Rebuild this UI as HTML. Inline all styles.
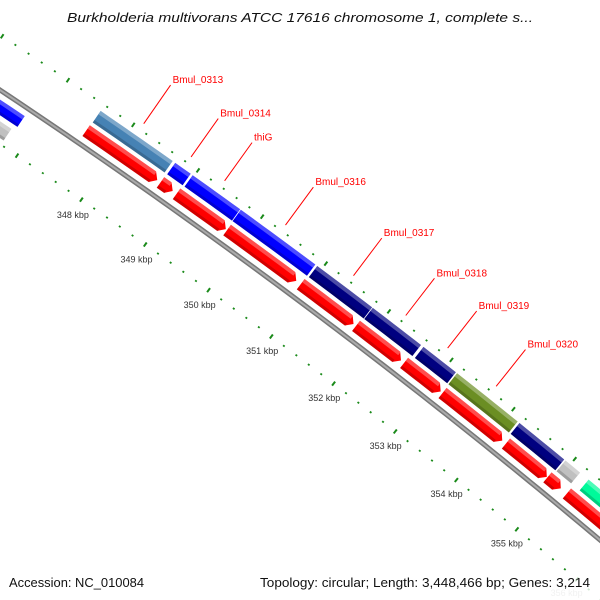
<!DOCTYPE html>
<html><head><meta charset="utf-8"><title>Genome map</title>
<style>
html,body{margin:0;padding:0;background:#fff;width:600px;height:600px;overflow:hidden;}
svg{display:block;font-family:"Liberation Sans","DejaVu Sans",sans-serif;}
</style></head>
<body>
<svg id="chart" width="600" height="600" viewBox="0 0 600 600" xmlns="http://www.w3.org/2000/svg" overflow="hidden">
<rect x="0" y="0" width="600" height="600" fill="#fff"/>
<g id="ticks"></g>
<g id="backbone"></g>
<g id="genes"></g>
<g id="labels"></g>
<text x="300" y="22" text-anchor="middle" font-size="13" font-style="italic" fill="#111" textLength="466" lengthAdjust="spacingAndGlyphs">Burkholderia multivorans ATCC 17616 chromosome 1, complete s...</text>
<rect x="0" y="572" width="600" height="28" fill="#fff" opacity="0.8"/>
<text x="9" y="587" font-size="13" fill="#111" textLength="135" lengthAdjust="spacingAndGlyphs">Accession: NC_010084</text>
<text x="590" y="587" text-anchor="end" font-size="13" fill="#111" textLength="330" lengthAdjust="spacingAndGlyphs">Topology: circular; Length: 3,448,466 bp; Genes: 3,214</text>
</svg>
<script>
// ---- data ----
const outerStarts = [347.56, 348.71, 348.98, 349.73, 350.93, 351.81, 352.62, 353.16, 354.17, 354.92, 355.30];
const outerEnds   = [348.67, 348.95, 349.72, 350.90, 351.80, 352.58, 353.14, 354.14, 354.90, 355.16, 357.50];
const outerColors = ["#4682b4","#0000ff","#0000ff","#0000ff","#000080","#000080","#000080","#6b8e23","#000080","#c0c0c0","#00fa9a"];
const redStarts = [347.55, 348.70, 348.95, 349.74, 350.90, 351.78, 352.55, 353.17, 354.20, 354.88, 355.20];
const redEnds   = [348.65, 348.89, 349.72, 350.83, 351.74, 352.50, 353.14, 354.14, 354.87, 355.10, 357.50];
const innerStarts = [343.0];
const innerEnds   = [346.80];
const innerColors = ["#0000ff"];
const inner2Starts = [343.0];
const inner2Ends   = [346.75];
const inner2Colors = ["#c0c0c0"];
const labelNames = ["Bmul_0313","Bmul_0314","thiG","Bmul_0316","Bmul_0317","Bmul_0318","Bmul_0319","Bmul_0320"];
const labelPos   = [348.10, 348.83, 349.35, 350.30, 351.37, 352.20, 352.87, 353.65];
const tickKbp = [348,349,350,351,352,353,354,355,356];

// ---- geometry (circular axis) ----
const CX = -3676, CY = 5616, T0 = -0.9643, K = 0.01184;
const R_BACK = 6637, R_RED0 = 6645, R_RED1 = 6658, R_COL0 = 6662, R_COL1 = 6676;
const R_IN0 = 6616, R_IN1 = 6629, R_IN20 = 6597, R_IN21 = 6611;
const R_OTICK = 6683, R_ITICK = 6592, R_TLAB = 6570;
const NS = "http://www.w3.org/2000/svg";
function ang(p){ return T0 + (p - 348) * K; }
function pt(r, p){ const a = ang(p); return [CX + r*Math.cos(a), CY + r*Math.sin(a)]; }
function f(v){ return v[0].toFixed(2)+","+v[1].toFixed(2); }
function arcPts(r, p1, p2){
  const n = Math.max(2, Math.ceil(Math.abs(p2-p1)*8));
  const out = [];
  for (let i=0;i<=n;i++) out.push(pt(r, p1 + (p2-p1)*i/n));
  return out;
}
function barPath(p1, p2, r0, r1, arrow){
  const pts = [];
  let h = 0;
  if (arrow) h = Math.min(0.076, (p2-p1)*0.6);
  arcPts(r1, p1, p2-h).forEach(v=>pts.push(v));
  if (arrow) pts.push(pt((r0+r1)/2, p2));
  arcPts(r0, p2-h, p1).forEach(v=>pts.push(v));
  return "M" + pts.map(f).join(" L") + " Z";
}
function mk(tag, parent){ const e = document.createElementNS(NS, tag); parent.appendChild(e); return e; }

const gT = document.getElementById("ticks");
const gB = document.getElementById("backbone");
const gG = document.getElementById("genes");
const gL = document.getElementById("labels");

// ticks: dots every 0.2 kbp, dashes at integer kbp
for (let i = 0; i <= (357.6-343.4)/0.2; i++){
  const p = 343.4 + i*0.2;
  const major = Math.abs(p - Math.round(p)) < 1e-6;
  [R_OTICK, R_ITICK].forEach(function(r){
    const a = pt(r - (major?2.5:0.9), p), b = pt(r + (major?2.5:0.9), p);
    const ln = mk("line", gT);
    
    
    ln.setAttribute("x1", a[0]); ln.setAttribute("y1", a[1]);
    ln.setAttribute("x2", b[0]); ln.setAttribute("y2", b[1]);
    ln.setAttribute("stroke", "#1a8a1a");
    ln.setAttribute("stroke-width", "2");
  });
}
tickKbp.forEach(function(k){
  const c = pt(R_TLAB, k);
  const t = mk("text", gT);
  
  
  t.setAttribute("x", c[0] + 4); t.setAttribute("y", c[1]);
  t.setAttribute("text-anchor", "middle");
  t.setAttribute("font-size", "9");
  t.setAttribute("fill", "#333");
  if (k === 356) t.setAttribute("opacity", "0.35");
  t.textContent = k + " kbp";
});

// backbone
[["#777",5],["#aaa",2]].forEach(function(s){
  const pts = arcPts(R_BACK, 343, 358);
  const pa = mk("path", gB);
  
  
  pa.setAttribute("d", "M" + pts.map(f).join(" L"));
  pa.setAttribute("fill", "none");
  pa.setAttribute("stroke", s[0]);
  pa.setAttribute("stroke-width", s[1]);
});

function drawBar(p1, p2, r0, r1, color, arrow, name){
  const pa = mk("path", gG);
  
  
  pa.setAttribute("d", barPath(p1, p2, r0, r1, arrow));
  pa.setAttribute("fill", color);
  const hi = mk("path", gG);
  
  
  const h = arrow ? Math.min(0.076, (p2-p1)*0.6) : 0;
  hi.setAttribute("d", barPath(p1, p2 - h*0.9, r1-4, r1, false));
  hi.setAttribute("fill", "#fff");
  hi.setAttribute("opacity", "0.3");
  const sh = mk("path", gG);
  
  
  sh.setAttribute("d", barPath(p1, p2 - h*0.9, r0, r0+3, false));
  sh.setAttribute("fill", "#000");
  sh.setAttribute("opacity", "0.18");
}
for (let i=0;i<inner2Starts.length;i++) drawBar(inner2Starts[i], inner2Ends[i], R_IN20, R_IN21, inner2Colors[i], false, "reverse-feature");
for (let i=0;i<innerStarts.length;i++) drawBar(innerStarts[i], innerEnds[i], R_IN0, R_IN1, innerColors[i], false, "reverse-gene");
for (let i=0;i<redStarts.length;i++) drawBar(redStarts[i], redEnds[i], R_RED0, R_RED1, "#ff0000", true, "cds-arrow");
for (let i=0;i<outerStarts.length;i++) drawBar(outerStarts[i], outerEnds[i], R_COL0, R_COL1, outerColors[i], false, "gene-bar");

// gene labels
for (let i=0;i<labelNames.length;i++){
  const a = pt(6690, labelPos[i]), b = pt(6737, labelPos[i]);
  const ln = mk("line", gL);
  
  
  ln.setAttribute("x1", a[0]); ln.setAttribute("y1", a[1]);
  ln.setAttribute("x2", b[0]); ln.setAttribute("y2", b[1]);
  ln.setAttribute("stroke", "#ff0000");
  ln.setAttribute("stroke-width", "1");
  const t = mk("text", gL);
  
  
  t.setAttribute("x", b[0] + 2); t.setAttribute("y", b[1] - 2);
  t.setAttribute("font-size", "10");
  t.setAttribute("fill", "#ff0000");
  t.textContent = labelNames[i];
}
</script>
</body></html>
